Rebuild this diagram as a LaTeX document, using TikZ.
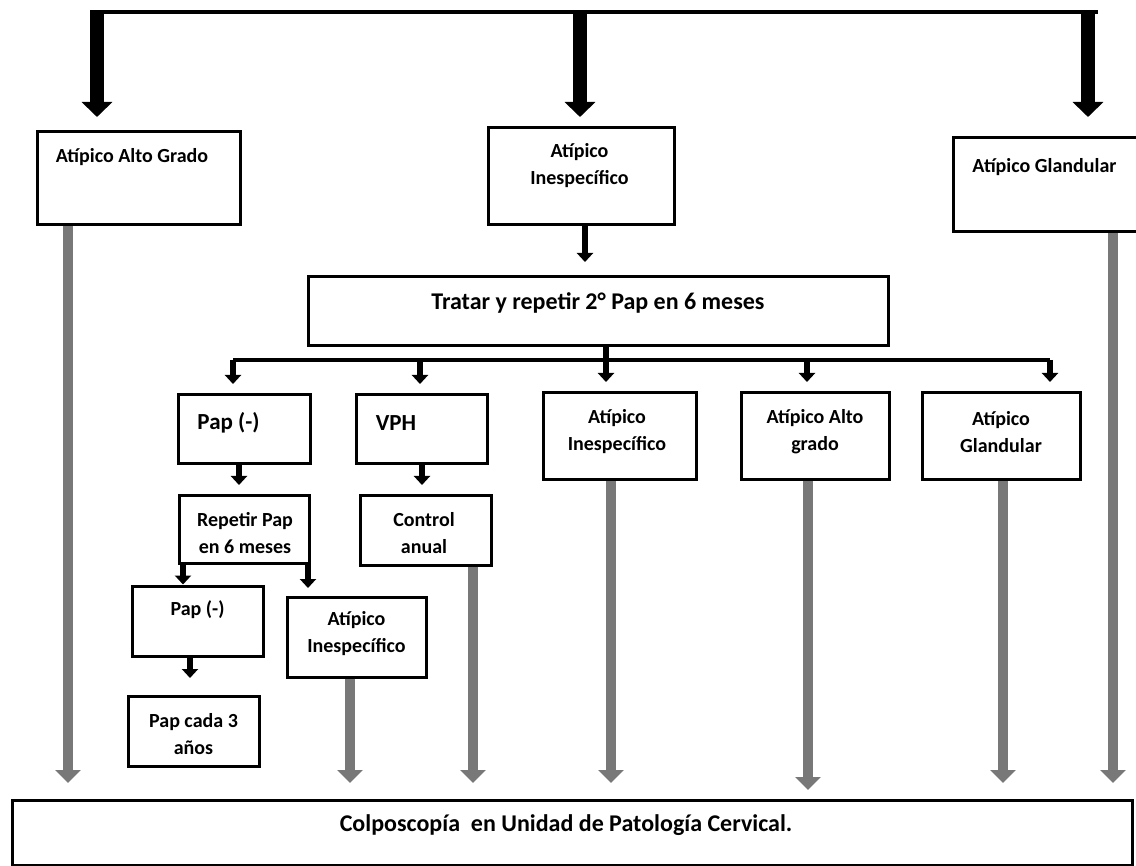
\documentclass[tikz,border=0pt]{standalone}
\usepackage{fontspec}
\setmainfont{Carlito}
\usetikzlibrary{arrows.meta}

\definecolor{shaftgray}{RGB}{120,120,120}

\tikzset{
  box/.style={draw, line width=3pt, inner sep=0pt},
  every label/.style={font=\bfseries\fontsize{20}{27}\selectfont, align=center},
  bigtxt/.style={font=\bfseries\fontsize{24}{28}\selectfont},
  paptxt/.style={font=\bfseries\fontsize{23}{28}\selectfont},
  barline/.style={line width=4.5pt},
  bigarrow/.style={line width=14pt, -{Triangle[width=30pt, length=15pt]}},
  smallarrow/.style={line width=5.5pt, -{Triangle[width=16pt, length=9pt]}},
  grayarrow/.style={shaftgray, line width=10pt, -{Triangle[width=25pt, length=13pt]}},
}

\begin{document}
\begin{tikzpicture}[x=1pt, y=-1pt]
  \useasboundingbox (0,0) rectangle (1136,866);

  % first level
  \coordinate (topL) at (90,12);
  \coordinate (topR) at (1098,12);
  \node[box, minimum width=203, minimum height=93,
    label={[xshift=-6.5pt, yshift=21.5pt]center:Atípico Alto Grado}] (alto) at (138.5,178.5) {};
  \node[box, minimum width=186, minimum height=97,
    label={[xshift=-1.5pt, yshift=10.5pt]center:Atípico\\Inespecífico}] (inesp) at (581,176.5) {};
  \node[box, minimum width=185, minimum height=94,
    label={[xshift=-1pt, yshift=18pt]center:Atípico Glandular}] (gland) at (1045.5,185) {};

  \node[box, minimum width=580, minimum height=69,
    label={[bigtxt, yshift=8.5pt]center:Tratar y repetir 2° Pap en 6 meses}] (tratar) at (598,311.5) {};

  % second level
  \coordinate (midL) at (233,360);
  \coordinate (midR) at (1050,360);
  \node[box, minimum width=132, minimum height=69,
    label={[paptxt, xshift=-15.5pt, yshift=6.5pt]center:Pap (-)}] (papA) at (244,429.5) {};
  \node[box, minimum width=131, minimum height=69,
    label={[paptxt, xshift=-25.5pt, yshift=6.5pt]center:VPH}] (vph) at (421.5,429.5) {};
  \node[box, minimum width=153, minimum height=87,
    label={[xshift=-2.5pt, yshift=4.5pt]center:Atípico\\Inespecífico}] (inespB) at (619.5,436.5) {};
  \node[box, minimum width=148, minimum height=87,
    label={[yshift=4.5pt]center:Atípico Alto\\grado}] (altoB) at (815,436.5) {};
  \node[box, minimum width=158, minimum height=87,
    label={[yshift=4.5pt]center:Atípico\\Glandular}] (glandB) at (1001,436.5) {};

  % third level
  \node[box, minimum width=130, minimum height=67,
    label={[xshift=1pt, yshift=-3.5pt]center:Repetir Pap\\en 6 meses}] (repetir) at (244,529.5) {};
  \node[box, minimum width=131, minimum height=69,
    label={[xshift=-1.5pt, yshift=-2.5pt]center:Control\\anual}] (control) at (425.5,530.5) {};
  \node[box, minimum width=131, minimum height=70,
    label={[yshift=11pt]center:Pap (-)}] (papB) at (197.5,621) {};
  \node[box, minimum width=139, minimum height=80,
    label={[yshift=3pt]center:Atípico\\Inespecífico}] (inespC) at (356.5,637) {};
  \node[box, minimum width=131, minimum height=70,
    label={[yshift=-3.5pt]center:Pap cada 3\\años}] (trienal) at (193.5,731) {};

  \node[box, minimum width=1120, minimum height=65,
    label={[bigtxt, xshift=-6pt, yshift=7.5pt]center:Colposcopía\ \ en Unidad de Patología Cervical.}] (colpo) at (572,832.5) {};

  % connectors
  \draw[barline] (topL) -- (topR);
  \foreach \n/\x/\s in {alto/97/13.5, inesp/580/9.5, gland/1088/19.5}
    \draw[bigarrow, shorten >=\s pt] (\x,0 |- topL) -- (\x,0 |- \n.north);
  \draw[smallarrow, shorten >=13.5pt] (585,0 |- inesp.south) -- (585,0 |- tratar.north);

  \draw[barline] (midL) -- (midR);
  \draw[smallarrow, shorten >=9.5pt] (606,0 |- tratar.south) -- (606,0 |- inespB.north);
  \foreach \n/\x in {papA/233, vph/420, altoB/807, glandB/1050}
    \draw[smallarrow, shorten >=9.5pt] (\x,0 |- midL) -- (\x,0 |- \n.north);

  \draw[smallarrow, shorten >=9.5pt] (239,0 |- papA.south) -- (239,0 |- repetir.north);
  \draw[smallarrow, shorten >=9.5pt] (422,0 |- vph.south) -- (422,0 |- control.north);
  \draw[smallarrow, shorten >=0pt] (183,0 |- repetir.south) -- (183,0 |- papB.north);
  \draw[smallarrow, shorten >=7.5pt] (308,0 |- repetir.south) -- (308,0 |- inespC.north);
  \draw[smallarrow, shorten >=16.5pt] (190,0 |- papB.south) -- (190,0 |- trienal.north);

  \foreach \n/\x/\s in {alto/68/15.5, inespC/350/15.5, control/473/15.5, inespB/611/15.5,
      altoB/808/8.5, glandB/1003/15.5, gland/1113/15.5}
    \draw[grayarrow, shorten >=\s pt] (\x,0 |- \n.south) -- (\x,0 |- colpo.north);
\end{tikzpicture}
\end{document}
